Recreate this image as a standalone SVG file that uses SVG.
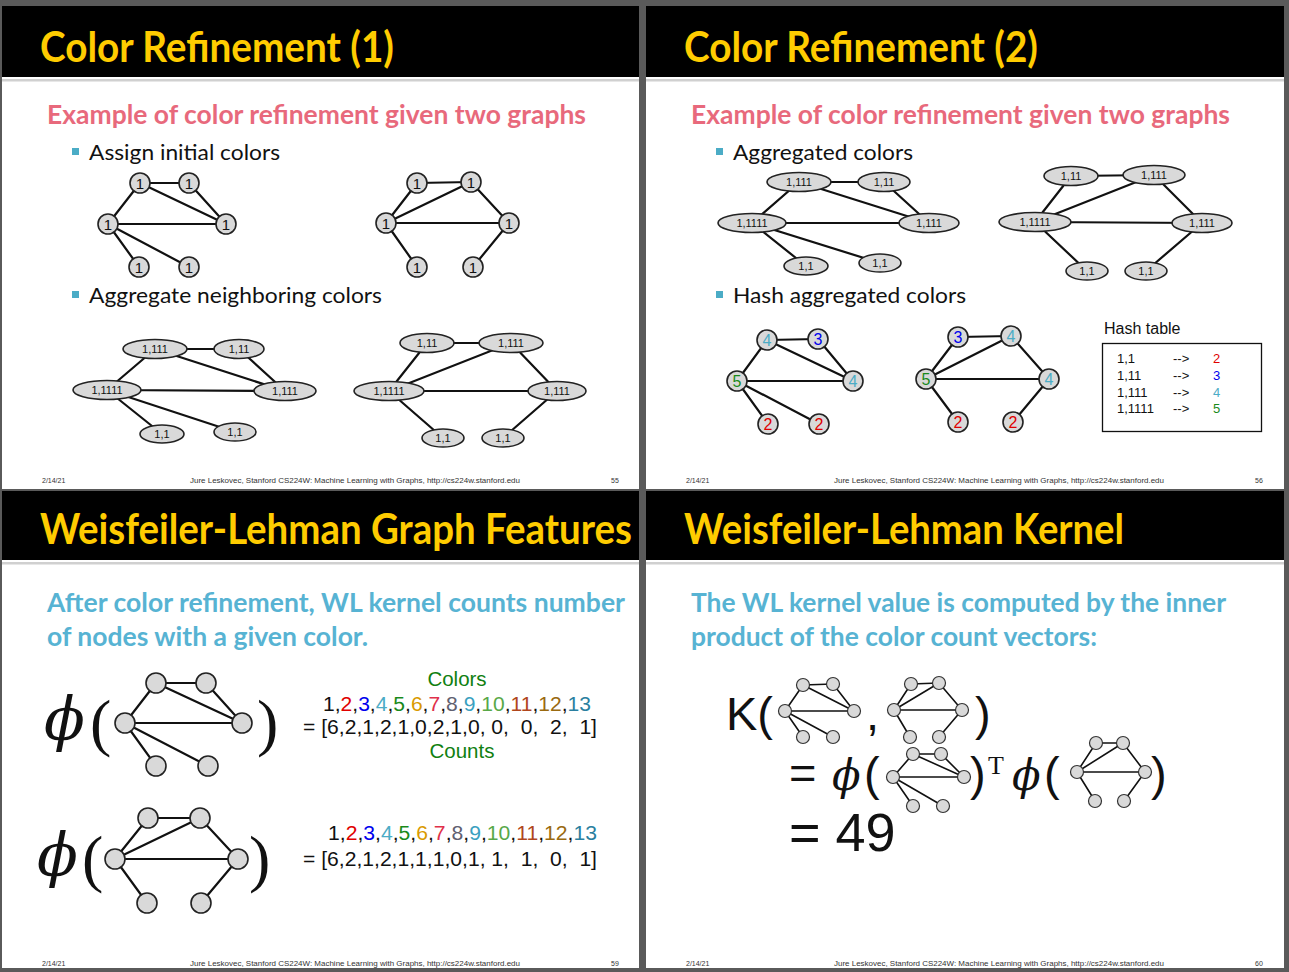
<svg xmlns="http://www.w3.org/2000/svg" width="1289" height="972" viewBox="0 0 1289 972">
<style>
.bg{fill:#5a5a5a}
.slide{fill:#ffffff}
.hdr{fill:#000000}
.rule{fill:#d0d0d0}
.title{font-family:Lato,"Open Sans",sans-serif;font-size:42px;font-weight:bold;fill:#ffcc00}
.sub{font-family:Lato,"Open Sans",sans-serif;font-size:26px;font-weight:bold;fill:#e8697c}
.sub2{font-family:Lato,"Open Sans",sans-serif;font-size:26px;font-weight:bold;fill:#57b3d3}
.bul{font-family:Lato,"Open Sans",sans-serif;font-size:22px;fill:#111}
.sq{fill:#4bacc6}
.foot{font-family:"Liberation Sans",Arial,sans-serif;font-size:7px;fill:#333}
.e{stroke:#111;stroke-width:2.2;fill:none}
.es{stroke:#111;stroke-width:1.6;fill:none}
.n{fill:#d9d9d9;stroke:#222;stroke-width:1.6}
.ns{fill:#d9d9d9;stroke:#333;stroke-width:1.2}
.lb{font-family:"Liberation Sans",Arial,sans-serif;font-size:15px;fill:#111;text-anchor:middle}
.el{font-family:"Liberation Sans",Arial,sans-serif;font-size:11px;fill:#111;text-anchor:middle}
.hl{font-family:"Liberation Sans",Arial,sans-serif;font-size:16px;text-anchor:middle}
.ht{font-family:"Liberation Sans",Arial,sans-serif;font-size:13px;fill:#111}
.ar{font-family:"Liberation Sans",Arial,sans-serif;font-size:20.5px;fill:#111}
.big{font-family:"Liberation Sans",Arial,sans-serif;font-size:47px;fill:#111}
.phi{font-family:"DejaVu Serif","Liberation Serif",serif;font-style:italic;fill:#111}
.par{font-family:"Liberation Serif",serif;fill:#111}
.c2{fill:#e00000}.c3{fill:#0000ee}.c4{fill:#4bacc6}.c5{fill:#1a8a1a}.c6{fill:#d99a00}.c7{fill:#e0304a}.c8{fill:#606070}.c9{fill:#3aa0c0}.c10{fill:#58a848}.c11{fill:#b0461c}.c12{fill:#9a6a10}.c13{fill:#2a7fa0}
.grn{fill:#108010}
</style>
<rect class="bg" x="0" y="0" width="1289" height="972"/>
<rect class="slide" x="2" y="6" width="637" height="483"/>
<rect class="slide" x="646" y="6" width="638" height="483"/>
<rect class="slide" x="2" y="491" width="637" height="477"/>
<rect class="slide" x="646" y="491" width="638" height="477"/>
<rect class="hdr" x="2" y="6" width="637" height="71"/>
<rect class="hdr" x="646" y="6" width="638" height="71"/>
<rect class="hdr" x="2" y="491" width="637" height="69"/>
<rect class="hdr" x="646" y="491" width="638" height="69"/>
<rect class="rule" x="2" y="79" width="637" height="2.5"/>
<rect class="rule" x="646" y="79" width="638" height="2.5"/>
<rect class="rule" x="2" y="562" width="637" height="2.5"/>
<rect class="rule" x="646" y="562" width="638" height="2.5"/>

<text class="title" x="40" y="62" textLength="354" lengthAdjust="spacingAndGlyphs">Color Refinement (1)</text>
<text class="title" x="684" y="62" textLength="354" lengthAdjust="spacingAndGlyphs">Color Refinement (2)</text>
<text class="title" x="40" y="544" textLength="592" lengthAdjust="spacingAndGlyphs">Weisfeiler-Lehman Graph Features</text>
<text class="title" x="684" y="544" textLength="440" lengthAdjust="spacingAndGlyphs">Weisfeiler-Lehman Kernel</text>

<text class="sub" x="47" y="124" textLength="539" lengthAdjust="spacingAndGlyphs">Example of color refinement given two graphs</text>
<rect class="sq" x="72" y="148" width="7" height="7"/>
<text class="bul" x="89" y="160" textLength="191" lengthAdjust="spacingAndGlyphs">Assign initial colors</text>
<rect class="sq" x="72" y="291" width="7" height="7"/>
<text class="bul" x="89" y="303" textLength="293" lengthAdjust="spacingAndGlyphs">Aggregate neighboring colors</text>

<text class="sub" x="691" y="124" textLength="539" lengthAdjust="spacingAndGlyphs">Example of color refinement given two graphs</text>
<rect class="sq" x="716" y="148" width="7" height="7"/>
<text class="bul" x="733" y="160" textLength="180" lengthAdjust="spacingAndGlyphs">Aggregated colors</text>
<rect class="sq" x="716" y="291" width="7" height="7"/>
<text class="bul" x="733" y="303" textLength="233" lengthAdjust="spacingAndGlyphs">Hash aggregated colors</text>

<text class="sub2" x="47" y="612" textLength="578" lengthAdjust="spacingAndGlyphs">After color refinement, WL kernel counts number</text>
<text class="sub2" x="47" y="646" textLength="321" lengthAdjust="spacingAndGlyphs">of nodes with a given color.</text>
<text class="sub2" x="691" y="612" textLength="535" lengthAdjust="spacingAndGlyphs">The WL kernel value is computed by the inner</text>
<text class="sub2" x="691" y="646" textLength="406" lengthAdjust="spacingAndGlyphs">product of the color count vectors:</text>

<g id="footers">
<text class="foot" x="42" y="483">2/14/21</text>
<text class="foot" x="190" y="483" textLength="330" lengthAdjust="spacingAndGlyphs">Jure Leskovec, Stanford CS224W: Machine Learning with Graphs, http://cs224w.stanford.edu</text>
<text class="foot" x="611" y="483">55</text>
<text class="foot" x="686" y="483">2/14/21</text>
<text class="foot" x="834" y="483" textLength="330" lengthAdjust="spacingAndGlyphs">Jure Leskovec, Stanford CS224W: Machine Learning with Graphs, http://cs224w.stanford.edu</text>
<text class="foot" x="1255" y="483">56</text>
<text class="foot" x="42" y="966">2/14/21</text>
<text class="foot" x="190" y="966" textLength="330" lengthAdjust="spacingAndGlyphs">Jure Leskovec, Stanford CS224W: Machine Learning with Graphs, http://cs224w.stanford.edu</text>
<text class="foot" x="611" y="966">59</text>
<text class="foot" x="686" y="966">2/14/21</text>
<text class="foot" x="834" y="966" textLength="330" lengthAdjust="spacingAndGlyphs">Jure Leskovec, Stanford CS224W: Machine Learning with Graphs, http://cs224w.stanford.edu</text>
<text class="foot" x="1255" y="966">60</text>
</g>

<g id="connectors">
<path class="e" d="M140,183L189,183M140,183L108,224M140,183L226,224M189,183L226,224M108,224L226,224M108,224L139,267M108,224L189,267"/>
<path class="e" d="M417,183L471,182M417,183L386,223M471,182L386,223M471,182L509,223M386,223L509,223M386,223L417,267M509,223L473,267"/>
<path class="e" d="M155,349L239,349M155,349L107,390M155,349L285,391M239,349L285,391M107,390L285,391M107,390L162,434M107,390L235,432"/>
<path class="e" d="M427,343L511,343M427,343L389,391M511,343L389,391M511,343L557,391M389,391L557,391M389,391L443,438M557,391L503,438"/>
<path class="e" d="M799,182L884,182M799,182L752,223M799,182L929,223M884,182L929,223M752,223L929,223M752,223L806,266M752,223L880,263"/>
<path class="e" d="M1071,176L1154,175M1071,176L1035,222M1154,175L1035,222M1154,175L1202,223M1035,222L1202,223M1035,222L1087,271M1202,223L1146,271"/>
<path class="e" d="M767,340L818,339M767,340L737,381M767,340L853,381M818,339L853,381M737,381L853,381M737,381L768,424M737,381L819,424"/>
<path class="e" d="M958,337L1011,336M958,337L926,379M1011,336L926,379M1011,336L1049,379M926,379L1049,379M926,379L958,422M1049,379L1013,422"/>
<path class="e" d="M156,683L206,683M156,683L125,723M156,683L242,723M206,683L242,723M125,723L242,723M125,723L156,766M125,723L208,766"/>
<path class="e" d="M148,818L200,818M148,818L115,859M200,818L115,859M200,818L238,859M115,859L238,859M115,859L147,903M238,859L201,903"/>
<path class="es" d="M803,685L833,684M803,685L785,711M803,685L854,711M833,684L854,711M785,711L854,711M785,711L803,737M785,711L833,737"/>
<path class="es" d="M911,684L939,683M911,684L894,710M939,683L894,710M939,683L962,710M894,710L962,710M894,710L910,737M962,710L939,737"/>
<path class="es" d="M913,754L941,754M913,754L893,777M913,754L964,777M941,754L964,777M893,777L964,777M893,777L913,806M893,777L943,806"/>
<path class="es" d="M1096,743L1123,743M1096,743L1077,772M1123,743L1077,772M1123,743L1145,772M1077,772L1145,772M1077,772L1095,801M1145,772L1124,801"/>
</g>

<g id="s1-initA">
<circle class="n" cx="140" cy="183" r="10"/><text class="lb" x="140" y="188.5">1</text>
<circle class="n" cx="189" cy="183" r="10"/><text class="lb" x="189" y="188.5">1</text>
<circle class="n" cx="108" cy="224" r="10"/><text class="lb" x="108" y="229.5">1</text>
<circle class="n" cx="226" cy="224" r="10"/><text class="lb" x="226" y="229.5">1</text>
<circle class="n" cx="139" cy="267" r="10"/><text class="lb" x="139" y="272.5">1</text>
<circle class="n" cx="189" cy="267" r="10"/><text class="lb" x="189" y="272.5">1</text>
</g>
<g id="s1-initB">
<circle class="n" cx="417" cy="183" r="10"/><text class="lb" x="417" y="188.5">1</text>
<circle class="n" cx="471" cy="182" r="10"/><text class="lb" x="471" y="187.5">1</text>
<circle class="n" cx="386" cy="223" r="10"/><text class="lb" x="386" y="228.5">1</text>
<circle class="n" cx="509" cy="223" r="10"/><text class="lb" x="509" y="228.5">1</text>
<circle class="n" cx="417" cy="267" r="10"/><text class="lb" x="417" y="272.5">1</text>
<circle class="n" cx="473" cy="267" r="10"/><text class="lb" x="473" y="272.5">1</text>
</g>

<g id="s1-aggA">
<ellipse class="n" cx="155" cy="349" rx="32" ry="9.5"/><text class="el" x="155" y="353">1,111</text>
<ellipse class="n" cx="239" cy="349" rx="25" ry="9.5"/><text class="el" x="239" y="353">1,11</text>
<ellipse class="n" cx="107" cy="390" rx="34" ry="9.5"/><text class="el" x="107" y="394">1,1111</text>
<ellipse class="n" cx="285" cy="391" rx="31" ry="9.5"/><text class="el" x="285" y="395">1,111</text>
<ellipse class="n" cx="162" cy="434" rx="22" ry="9"/><text class="el" x="162" y="438">1,1</text>
<ellipse class="n" cx="235" cy="432" rx="21" ry="9"/><text class="el" x="235" y="436">1,1</text>
</g>
<g id="s1-aggB">
<ellipse class="n" cx="427" cy="343" rx="27" ry="9.5"/><text class="el" x="427" y="347">1,11</text>
<ellipse class="n" cx="511" cy="343" rx="32" ry="9.5"/><text class="el" x="511" y="347">1,111</text>
<ellipse class="n" cx="389" cy="391" rx="35" ry="9.5"/><text class="el" x="389" y="395">1,1111</text>
<ellipse class="n" cx="557" cy="391" rx="29" ry="9.5"/><text class="el" x="557" y="395">1,111</text>
<ellipse class="n" cx="443" cy="438" rx="21" ry="9"/><text class="el" x="443" y="442">1,1</text>
<ellipse class="n" cx="503" cy="438" rx="21" ry="9"/><text class="el" x="503" y="442">1,1</text>
</g>

<g id="s2-aggA">
<ellipse class="n" cx="799" cy="182" rx="32" ry="9.5"/><text class="el" x="799" y="186">1,111</text>
<ellipse class="n" cx="884" cy="182" rx="26" ry="9.5"/><text class="el" x="884" y="186">1,11</text>
<ellipse class="n" cx="752" cy="223" rx="34" ry="9.5"/><text class="el" x="752" y="227">1,1111</text>
<ellipse class="n" cx="929" cy="223" rx="30" ry="9.5"/><text class="el" x="929" y="227">1,111</text>
<ellipse class="n" cx="806" cy="266" rx="22" ry="9"/><text class="el" x="806" y="270">1,1</text>
<ellipse class="n" cx="880" cy="263" rx="21" ry="9"/><text class="el" x="880" y="267">1,1</text>
</g>
<g id="s2-aggB">
<ellipse class="n" cx="1071" cy="176" rx="27" ry="9.5"/><text class="el" x="1071" y="180">1,11</text>
<ellipse class="n" cx="1154" cy="175" rx="31" ry="9.5"/><text class="el" x="1154" y="179">1,111</text>
<ellipse class="n" cx="1035" cy="222" rx="36" ry="9.5"/><text class="el" x="1035" y="226">1,1111</text>
<ellipse class="n" cx="1202" cy="223" rx="30" ry="9.5"/><text class="el" x="1202" y="227">1,111</text>
<ellipse class="n" cx="1087" cy="271" rx="21" ry="9"/><text class="el" x="1087" y="275">1,1</text>
<ellipse class="n" cx="1146" cy="271" rx="21" ry="9"/><text class="el" x="1146" y="275">1,1</text>
</g>

<g id="s2-hashA">
<circle class="n" cx="767" cy="340" r="10"/><text class="hl c4" x="767" y="346">4</text>
<circle class="n" cx="818" cy="339" r="10"/><text class="hl c3" x="818" y="345">3</text>
<circle class="n" cx="737" cy="381" r="10"/><text class="hl c5" x="737" y="387">5</text>
<circle class="n" cx="853" cy="381" r="10"/><text class="hl c4" x="853" y="387">4</text>
<circle class="n" cx="768" cy="424" r="10"/><text class="hl c2" x="768" y="430">2</text>
<circle class="n" cx="819" cy="424" r="10"/><text class="hl c2" x="819" y="430">2</text>
</g>
<g id="s2-hashB">
<circle class="n" cx="958" cy="337" r="10"/><text class="hl c3" x="958" y="343">3</text>
<circle class="n" cx="1011" cy="336" r="10"/><text class="hl c4" x="1011" y="342">4</text>
<circle class="n" cx="926" cy="379" r="10"/><text class="hl c5" x="926" y="385">5</text>
<circle class="n" cx="1049" cy="379" r="10"/><text class="hl c4" x="1049" y="385">4</text>
<circle class="n" cx="958" cy="422" r="10"/><text class="hl c2" x="958" y="428">2</text>
<circle class="n" cx="1013" cy="422" r="10"/><text class="hl c2" x="1013" y="428">2</text>
</g>

<g id="hash-table">
<text x="1104" y="334" style="font-family:'Liberation Sans',Arial,sans-serif;font-size:16px;fill:#111">Hash table</text>
<rect x="1102.5" y="343.5" width="159" height="88" fill="#fff" stroke="#111" stroke-width="1.3"/>
<text class="ht" x="1117" y="363">1,1</text><text class="ht" x="1173" y="363">--&gt;</text><text class="ht c2" x="1213" y="363">2</text>
<text class="ht" x="1117" y="380">1,11</text><text class="ht" x="1173" y="380">--&gt;</text><text class="ht c3" x="1213" y="380">3</text>
<text class="ht" x="1117" y="397">1,111</text><text class="ht" x="1173" y="397">--&gt;</text><text class="ht c4" x="1213" y="397">4</text>
<text class="ht" x="1117" y="413">1,1111</text><text class="ht" x="1173" y="413">--&gt;</text><text class="ht c5" x="1213" y="413">5</text>
</g>

<g id="s3-phiA">
<text class="phi" x="44" y="740" style="font-size:60px">ϕ</text>
<text class="par" x="90" y="744" style="font-size:64px">(</text>
<circle class="n" cx="156" cy="683" r="10"/>
<circle class="n" cx="206" cy="683" r="10"/>
<circle class="n" cx="125" cy="723" r="10"/>
<circle class="n" cx="242" cy="723" r="10"/>
<circle class="n" cx="156" cy="766" r="10"/>
<circle class="n" cx="208" cy="766" r="10"/>
<text class="par" x="257" y="744" style="font-size:64px">)</text>
</g>
<g id="s3-vecA">
<text class="ar grn" x="457" y="686" text-anchor="middle">Colors</text>
<text class="ar" x="323" y="711" textLength="268" lengthAdjust="spacingAndGlyphs">1,<tspan class="c2">2</tspan>,<tspan class="c3">3</tspan>,<tspan class="c4">4</tspan>,<tspan class="c5">5</tspan>,<tspan class="c6">6</tspan>,<tspan class="c7">7</tspan>,<tspan class="c8">8</tspan>,<tspan class="c9">9</tspan>,<tspan class="c10">10</tspan>,<tspan class="c11">11</tspan>,<tspan class="c12">12</tspan>,<tspan class="c13">13</tspan></text>
<text class="ar" x="303" y="734" xml:space="preserve" textLength="294" lengthAdjust="spacingAndGlyphs">= [6,2,1,2,1,0,2,1,0, 0,  0,  2,  1]</text>
<text class="ar grn" x="462" y="758" text-anchor="middle">Counts</text>
</g>
<g id="s3-phiB">
<text class="phi" x="37" y="876" style="font-size:60px">ϕ</text>
<text class="par" x="82" y="880" style="font-size:64px">(</text>
<circle class="n" cx="148" cy="818" r="10"/>
<circle class="n" cx="200" cy="818" r="10"/>
<circle class="n" cx="115" cy="859" r="10"/>
<circle class="n" cx="238" cy="859" r="10"/>
<circle class="n" cx="147" cy="903" r="10"/>
<circle class="n" cx="201" cy="903" r="10"/>
<text class="par" x="249" y="880" style="font-size:64px">)</text>
</g>
<g id="s3-vecB">
<text class="ar" x="328" y="840" textLength="269" lengthAdjust="spacingAndGlyphs">1,<tspan class="c2">2</tspan>,<tspan class="c3">3</tspan>,<tspan class="c4">4</tspan>,<tspan class="c5">5</tspan>,<tspan class="c6">6</tspan>,<tspan class="c7">7</tspan>,<tspan class="c8">8</tspan>,<tspan class="c9">9</tspan>,<tspan class="c10">10</tspan>,<tspan class="c11">11</tspan>,<tspan class="c12">12</tspan>,<tspan class="c13">13</tspan></text>
<text class="ar" x="303" y="866" xml:space="preserve" textLength="294" lengthAdjust="spacingAndGlyphs">= [6,2,1,2,1,1,1,0,1, 1,  1,  0,  1]</text>
</g>

<g id="s4-K">
<text class="big" x="726" y="730">K(</text>
<circle class="ns" cx="803" cy="685" r="6.5"/><circle class="ns" cx="833" cy="684" r="6.5"/><circle class="ns" cx="785" cy="711" r="6.5"/><circle class="ns" cx="854" cy="711" r="6.5"/><circle class="ns" cx="803" cy="737" r="6.5"/><circle class="ns" cx="833" cy="737" r="6.5"/>
<text class="big" x="866" y="730">,</text>
<circle class="ns" cx="911" cy="684" r="6.5"/><circle class="ns" cx="939" cy="683" r="6.5"/><circle class="ns" cx="894" cy="710" r="6.5"/><circle class="ns" cx="962" cy="710" r="6.5"/><circle class="ns" cx="910" cy="737" r="6.5"/><circle class="ns" cx="939" cy="737" r="6.5"/>
<text class="big" x="975" y="730">)</text>
</g>
<g id="s4-line2">
<text class="big" x="789" y="789">=</text>
<text class="phi" x="832" y="790" style="font-size:42px">ϕ</text>
<text class="big" x="864" y="790">(</text>
<circle class="ns" cx="913" cy="754" r="6.5"/><circle class="ns" cx="941" cy="754" r="6.5"/><circle class="ns" cx="893" cy="777" r="6.5"/><circle class="ns" cx="964" cy="777" r="6.5"/><circle class="ns" cx="913" cy="806" r="6.5"/><circle class="ns" cx="943" cy="806" r="6.5"/>
<text class="big" x="970" y="790">)</text>
<text class="par" x="988" y="774" style="font-size:26px">T</text>
<text class="phi" x="1012" y="790" style="font-size:42px">ϕ</text>
<text class="big" x="1044" y="790">(</text>
<circle class="ns" cx="1096" cy="743" r="6.5"/><circle class="ns" cx="1123" cy="743" r="6.5"/><circle class="ns" cx="1077" cy="772" r="6.5"/><circle class="ns" cx="1145" cy="772" r="6.5"/><circle class="ns" cx="1095" cy="801" r="6.5"/><circle class="ns" cx="1124" cy="801" r="6.5"/>
<text class="big" x="1151" y="790">)</text>
</g>
<g id="s4-line3">
<text class="big" x="789" y="851" style="font-size:54px">= 49</text>
</g>
</svg>
